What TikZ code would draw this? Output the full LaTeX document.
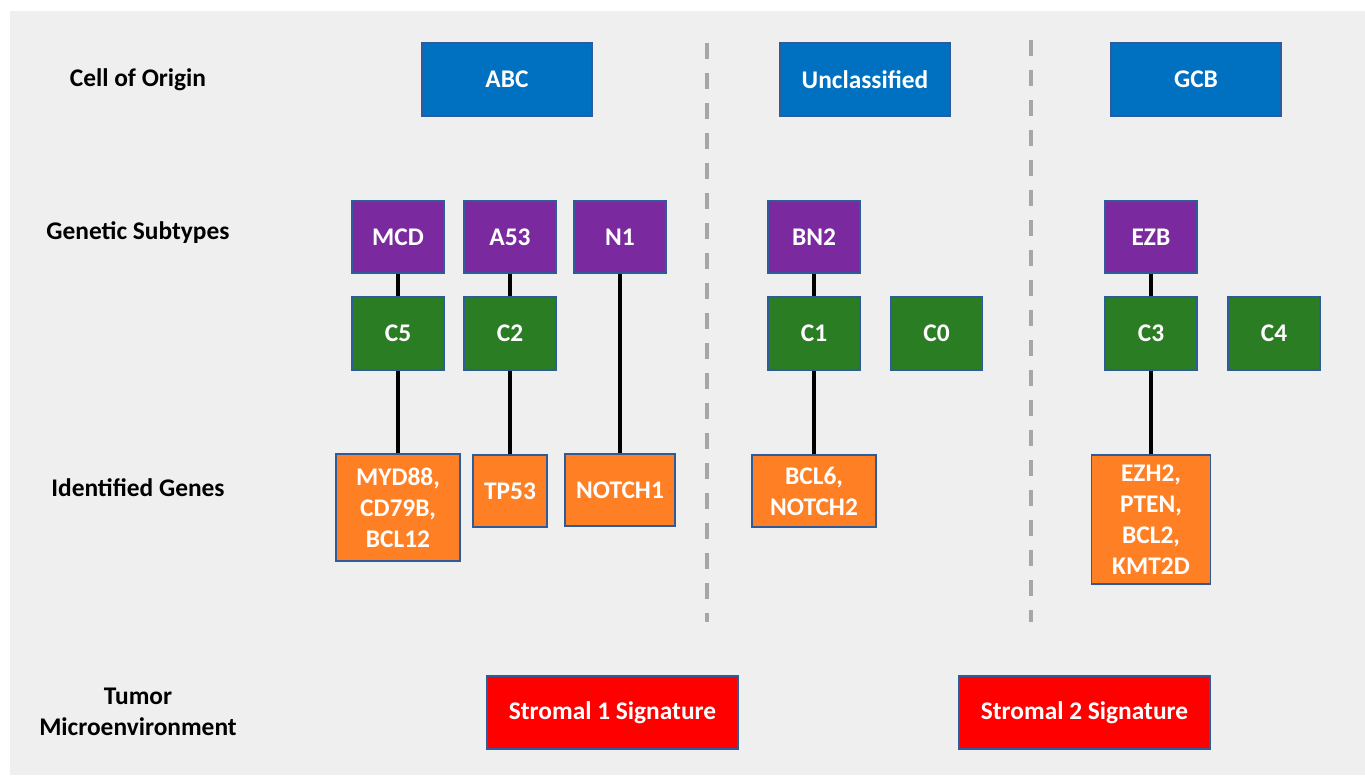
\documentclass[tikz,border=0pt]{standalone}
\usepackage{fontspec}
\setmainfont{Carlito}
\usetikzlibrary{positioning}

\definecolor{panelgray}{HTML}{EFEFEF}
\definecolor{boxline}{HTML}{2E5C9A}
\definecolor{originblue}{HTML}{0070C0}
\definecolor{subtypepurple}{HTML}{7A2A9E}
\definecolor{clustergreen}{HTML}{2B7D24}
\definecolor{geneorange}{HTML}{FF7F24}
\definecolor{stromalred}{HTML}{FF0000}
\definecolor{dividergray}{HTML}{A6A6A6}

\tikzset{
  box/.style={draw=boxline,line width=1.3bp,text=white,align=center,
    inner sep=0pt,font=\fontsize{25.5}{31}\selectfont\bfseries},
  rowlabel/.style={align=center,font=\fontsize{25.5}{31}\selectfont\bfseries},
  origin/.style={box,fill=originblue,minimum width=170bp,minimum height=73bp},
  subtype/.style={box,fill=subtypepurple,minimum width=92bp,minimum height=72bp},
  cluster/.style={box,fill=clustergreen,minimum width=92bp,minimum height=73bp},
  gene/.style={box,fill=geneorange},
  stromal/.style={box,fill=stromalred,minimum width=251bp,minimum height=73bp},
  link/.style={line width=3.5bp,black},
  divider/.style={line width=4bp,dividergray,dash pattern=on 16bp off 14bp}
}

\begin{document}
\begin{tikzpicture}[x=1bp,y=-1bp]
    \useasboundingbox (0,0) rectangle (1365,775);
    \fill[white] (0,0) rectangle (1365,775);
    \fill[panelgray] (10,11) rectangle (1365,775);

    % row labels
    \node[rowlabel] (lorigin) at (138,80) {Cell of Origin};
    \node[rowlabel] (lsubtype) at (138,233) {Genetic Subtypes};
    \node[rowlabel] (lgenes) at (138,488) {Identified Genes};
    \node[rowlabel] (ltme) at (138,712) {Tumor\\Microenvironment};

    \draw[divider] (707,43) -- (707,622);
    \draw[divider] (1031,40) -- (1031,622);

    \node[origin] (abc) at (507,79.5) {ABC};
    \node[origin] (uncl) at (865,79.5) {Unclassified};
    \node[origin] (gcb) at (1196,79.5) {GCB};

    \node[subtype] (mcd) at (398,237) {MCD};
    \node[subtype] (a53) at (510,237) {A53};
    \node[subtype] (n1) at (620,237) {N1};
    \node[subtype] (bn2) at (814,237) {BN2};
    \node[subtype] (ezb) at (1151,237) {EZB};

    \node[cluster] (c5) at (398,333.5) {C5};
    \node[cluster] (c2) at (510,333.5) {C2};
    \node[cluster] (c1) at (814,333.5) {C1};
    \node[cluster] (c0) at (936.5,333.5) {C0};
    \node[cluster] (c3) at (1151,333.5) {C3};
    \node[cluster] (c4) at (1274,333.5) {C4};

    \node[gene,minimum width=124bp,minimum height=107bp] (myd) at (398,507.5)
      {MYD88,\\CD79B,\\BCL12};
    \node[gene,minimum width=74bp,minimum height=72bp] (tp) at (510,491)
      {TP53};
    \node[gene,minimum width=110bp,minimum height=72bp] (notch1) at (620,490)
      {NOTCH1};
    \node[gene,minimum width=124bp,minimum height=72bp] (bcl6) at (814,491)
      {BCL6,\\NOTCH2};
    \node[gene,minimum width=119bp,minimum height=129bp] (ezh) at (1151,519.5)
      {EZH2,\\PTEN,\\BCL2,\\KMT2D};

    \node[stromal] (str1) at (612.5,712.5) {Stromal 1 Signature};
    \node[stromal] (str2) at (1084.5,712.5) {Stromal 2 Signature};

    \draw[link] (mcd) -- (c5);
    \draw[link] (c5) -- (myd);
    \draw[link] (a53) -- (c2);
    \draw[link] (c2) -- (tp);
    \draw[link] (n1) -- (notch1);
    \draw[link] (bn2) -- (c1);
    \draw[link] (c1) -- (bcl6);
    \draw[link] (ezb) -- (c3);
    \draw[link] (c3) -- (ezh);
  \end{tikzpicture}
\end{document}
